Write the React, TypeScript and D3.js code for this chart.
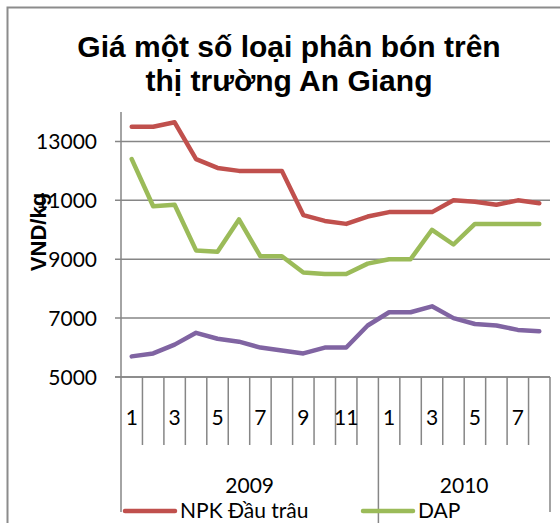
import React from 'react';
import * as d3 from 'd3';

// months of the two years on the category axis
const years = ['2009', '2010'];
const monthsPerYear = [12, 8];

// prices in VND/kg, one value per month
const npkDauTrau = [13500, 13500, 13650, 12400, 12100, 12000, 12000, 12000, 10500, 10300, 10200, 10450,
  10600, 10600, 10600, 11000, 10950, 10850, 11000, 10900];
const dap = [12400, 10800, 10850, 9300, 9250, 10350, 9100, 9100, 8550, 8500, 8500, 8850,
  9000, 9000, 10000, 9500, 10200, 10200, 10200, 10200];
const ure = [5700, 5800, 6100, 6500, 6300, 6200, 6000, 5900, 5800, 6000, 6000, 6750,
  7200, 7200, 7400, 7000, 6800, 6750, 6600, 6550];

const seriesNames = ['NPK Đầu trâu', 'DAP', 'Urê'];
const seriesColors = ['#C0504D', '#9BBB59', '#8064A2'];
const yTicks = [5000, 7000, 9000, 11000, 13000];
// only the first two legend entries fit inside the picture
const visibleLegend = 2;

const W = 560;
const H = 523;
const plot = { left: 121, right: 550, top: 112, bottom: 377 };

const App = () => {
  const categories: { year: string; month: number; i: number }[] = [];
  years.forEach((yr, yi) => {
    for (let m = 1; m <= monthsPerYear[yi]; m++) {
      categories.push({ year: yr, month: m, i: categories.length });
    }
  });

  const x = d3.scaleBand<number>()
    .domain(categories.map(c => c.i))
    .range([plot.left, plot.right])
    .paddingInner(0)
    .paddingOuter(0);

  const y = d3.scaleLinear()
    .domain([5000, 14000])
    .range([plot.bottom, plot.top]);

  const line = d3.line<number>()
    .x((_, i) => x(i)! + x.bandwidth() / 2)
    .y(d => y(d));

  const allSeries = [npkDauTrau, dap, ure];

  // year group boundaries
  const yearBounds: number[] = [0];
  monthsPerYear.forEach(n => yearBounds.push(yearBounds[yearBounds.length - 1] + n));

  const grid = '#868686';
  const labelFont = 'Lato, "Open Sans", sans-serif';

  return (
    <svg width={W} height={H} style={{ position: 'absolute', left: 0, top: 0, background: '#fff' }}>
      {/* chart area border */}
      <rect x={7.5} y={7.5} width={620} height={600} fill="white" stroke="#8c8c8c" strokeWidth={2} />

      {/* title */}
      <text x={289} textAnchor="middle" fontFamily='"Liberation Sans", Arial, sans-serif'
        fontWeight="bold" fontSize={30} fill="#000">
        <tspan x={289} y={57}>Giá một số loại phân bón trên</tspan>
        <tspan x={289} y={91}>thị trường An Giang</tspan>
      </text>

      {/* horizontal gridlines and y ticks */}
      {yTicks.map(t => (
        <g key={t}>
          <line x1={plot.left - 6} x2={plot.right} y1={y(t)} y2={y(t)} stroke={grid} strokeWidth={1.5} />
          <text x={97} y={y(t)} dy="0.36em" textAnchor="end" fontFamily={labelFont} fontSize={21} fill="#000">
            {t}
          </text>
        </g>
      ))}

      {/* y axis */}
      <line x1={plot.left} x2={plot.left} y1={plot.top} y2={plot.bottom} stroke={grid} strokeWidth={1.5} />

      {/* y axis title */}
      <text transform={`translate(46,232) rotate(-90)`} textAnchor="middle"
        fontFamily='"Liberation Sans", Arial, sans-serif' fontWeight="bold" fontSize={22} fill="#000">
        VND/kg
      </text>

      {/* category axis: month ticks */}
      {categories.map(c => {
        if (yearBounds.includes(c.i)) return null;
        const xx = x(c.i)!;
        return <line key={'t' + c.i} x1={xx} x2={xx} y1={plot.bottom} y2={445} stroke={grid} strokeWidth={1.5} />;
      })}
      {yearBounds.map((b, k) => {
        const xx = b < categories.length ? x(b)! : plot.right;
        const y2 = k === 1 ? 530 : 512;
        return <line key={'yb' + k} x1={xx} x2={xx} y1={plot.bottom} y2={y2} stroke={grid} strokeWidth={1.5} />;
      })}

      {/* month labels, every other month */}
      {categories.filter(c => c.month % 2 === 1).map(c => (
        <text key={'m' + c.i} x={x(c.i)! + x.bandwidth() / 2} y={425} textAnchor="middle"
          fontFamily={labelFont} fontSize={21} fill="#000">
          {c.month}
        </text>
      ))}

      {/* year labels */}
      {years.map((yr, k) => {
        const x0 = x(yearBounds[k])!;
        const x1 = yearBounds[k + 1] < categories.length ? x(yearBounds[k + 1])! : plot.right;
        return (
          <text key={yr} x={(x0 + x1) / 2} y={493} textAnchor="middle" fontFamily={labelFont} fontSize={21} fill="#000">
            {yr}
          </text>
        );
      })}

      {/* x axis line */}
      <line x1={plot.left - 6} x2={plot.right} y1={plot.bottom} y2={plot.bottom} stroke={grid} strokeWidth={1.5} />

      {/* series */}
      {allSeries.map((s, k) => (
        <path key={seriesNames[k]} d={line(s) || ''} fill="none" stroke={seriesColors[k]}
          strokeWidth={4.5} strokeLinejoin="round" strokeLinecap="round" />
      ))}

      {/* legend */}
      {seriesNames.slice(0, visibleLegend).map((n, k) => {
        const lx = 125 + k * 238;
        return (
          <g key={'lg' + k}>
            <line x1={lx} x2={lx + 50} y1={511} y2={511} stroke={seriesColors[k]} strokeWidth={4.5} strokeLinecap="round" />
            <text x={lx + 55} y={518} fontFamily={labelFont} fontSize={21} fill="#000">{n}</text>
          </g>
        );
      })}
    </svg>
  );
};

export default App;
